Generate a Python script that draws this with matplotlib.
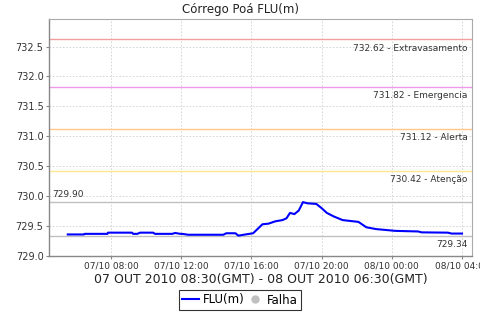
import numpy as np
import matplotlib
matplotlib.use('Agg')
import matplotlib.pyplot as plt
import matplotlib.dates as mdates
from matplotlib.lines import Line2D
from datetime import datetime, timedelta

# hours since 07/10/2010 00:00 (local) and level in m
hours = [5.54, 6.46, 6.50, 7.80, 7.83, 9.20, 9.26, 9.50, 9.66, 10.40, 10.51,
         11.49, 11.66, 11.95, 12.06, 12.40, 14.40, 14.57, 15.09, 15.26, 15.66,
         16.10, 16.63, 16.97, 17.37, 17.77, 18.00, 18.20, 18.45, 18.70, 18.94,
         19.20, 19.70, 20.00, 20.30, 20.70, 21.20, 22.10, 22.55, 23.10, 24.20,
         25.50, 25.70, 27.20, 27.40, 28.00]
flu = [729.36, 729.36, 729.37, 729.37, 729.39, 729.39, 729.37, 729.37, 729.39,
       729.39, 729.37, 729.37, 729.385, 729.37, 729.37, 729.355, 729.355,
       729.38, 729.38, 729.34, 729.36, 729.38, 729.53, 729.54, 729.58, 729.60,
       729.63, 729.72, 729.70, 729.76, 729.90, 729.88, 729.87, 729.80, 729.72,
       729.66, 729.60, 729.57, 729.48, 729.45, 729.42, 729.41, 729.395, 729.39,
       729.375, 729.375]

limits = [732.62, 731.82, 731.12, 730.42]
limit_names = ['Extravasamento', 'Emergencia', 'Alerta', 'Atenção']
limit_colors = ['#f0a0a0', '#ee99ee', '#ffc888', '#ffe890']
vmax, vmin = 729.90, 729.34

t0 = datetime(2010, 10, 7)
times = [t0 + timedelta(hours=h) for h in hours]

fig = plt.figure(figsize=(4.8, 3.2), dpi=100)
ax = fig.add_axes([49/480, 1 - 256/320, 423/480, 237/320])

for v, c, n in zip(limits, limit_colors, limit_names):
    ax.axhline(v, color=c, lw=1.0, zorder=2)
    ax.annotate(f'{v:.2f} - {n}', xy=(1, v), xycoords=('axes fraction', 'data'),
                xytext=(-3, -3), textcoords='offset points', ha='right', va='top',
                fontsize=6.5, color='#333333')
ax.axhline(vmax, color='#c0c0c0', lw=1.0, zorder=2)
ax.annotate(f'{vmax:.2f}', xy=(0, vmax), xycoords=('axes fraction', 'data'),
            xytext=(2, 2), textcoords='offset points', ha='left', va='bottom',
            fontsize=6.5, color='#333333')
ax.axhline(vmin, color='#c0c0c0', lw=1.0, zorder=2)
ax.annotate(f'{vmin:.2f}', xy=(1, vmin), xycoords=('axes fraction', 'data'),
            xytext=(-3, -3), textcoords='offset points', ha='right', va='top',
            fontsize=6.5, color='#333333')

ax.plot(times, flu, color='#0000ff', lw=1.5, zorder=3)

ax.set_xlim(t0 + timedelta(hours=4.47), t0 + timedelta(hours=28.57))
ax.set_ylim(729.0, 732.96)
ax.set_yticks(np.arange(729.0, 732.6, 0.5))
ax.yaxis.set_major_formatter(plt.FormatStrFormatter('%.1f'))
ax.xaxis.set_major_locator(mdates.HourLocator(byhour=range(0, 24, 4)))
ax.xaxis.set_major_formatter(mdates.DateFormatter('%d/%m %H:%M'))
ax.tick_params(axis='y', labelsize=7, length=2, color='#888888', pad=2, labelcolor='#333333')
ax.tick_params(axis='x', labelsize=6.5, length=2, color='#888888', pad=2, labelcolor='#333333')

ax.grid(True, color='#d0d0d0', lw=0.6, ls=(0, (2, 2)), zorder=1)
for s in ['top', 'right']:
    ax.spines[s].set_color('#aaaaaa')
    ax.spines[s].set_linewidth(0.8)
for s in ['left', 'bottom']:
    ax.spines[s].set_color('#888888')
    ax.spines[s].set_linewidth(1.0)

ax.set_xlabel('07 OUT 2010 08:30(GMT) - 08 OUT 2010 06:30(GMT)', fontsize=9,
              labelpad=1.5, color='#222222')
fig.text(0.5, 1 - 9/320, 'Córrego Poá FLU(m)', ha='center', va='center',
         fontsize=8.5, color='#222222')

handles = [Line2D([], [], color='#0000ff', lw=1.5),
           Line2D([], [], color='#c0c0c0', marker='o', ls='none', markersize=5)]
leg = fig.legend(handles, ['FLU(m)', 'Falha'], loc='center',
                 bbox_to_anchor=(0.5, 1 - 300/320), ncol=2, fontsize=8.5,
                 frameon=True, fancybox=False, handlelength=1.4, handletextpad=0.3,
                 columnspacing=0.2, borderpad=0.3, borderaxespad=0)
leg.get_frame().set_edgecolor('black')
leg.get_frame().set_linewidth(0.8)

fig.savefig('out.png', dpi=100)
